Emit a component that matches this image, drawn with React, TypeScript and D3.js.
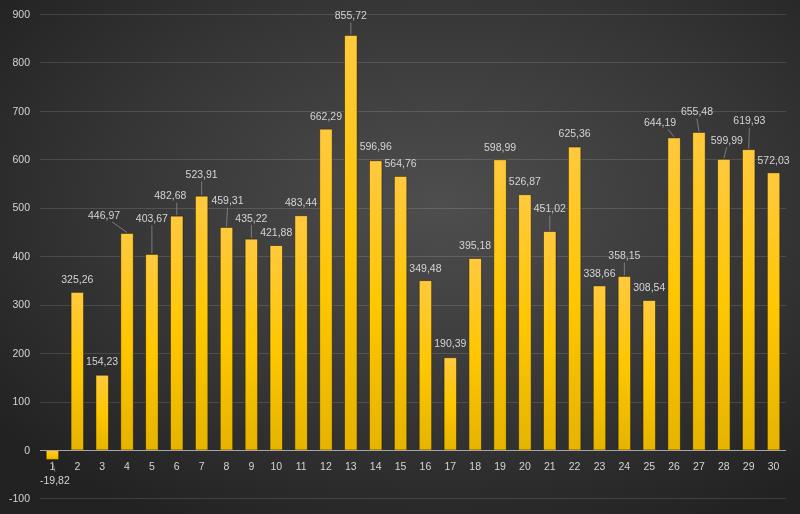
import React from "react";
import * as d3 from "d3";

const categories: string[] = Array.from({ length: 30 }, (_, i) => String(i + 1));
const values: number[] = [
  -19.82, 325.26, 154.23, 446.97, 403.67, 482.68, 523.91, 459.31, 435.22, 421.88,
  483.44, 662.29, 855.72, 596.96, 564.76, 349.48, 190.39, 395.18, 598.99, 526.87,
  451.02, 625.36, 338.66, 358.15, 308.54, 644.19, 655.48, 599.99, 619.93, 572.03,
];
const yTicks: number[] = [-100, 0, 100, 200, 300, 400, 500, 600, 700, 800, 900];

// manual label offsets (pixels) relative to bar center / bar end
const labelDx: number[] = [
  2.5, 0, 0, -23, 0, -6.5, 0, 1, 0, 0,
  0, 0, 0, 0, 0, 0, 0, 0, 0, 0,
  0, 0, 0, 0, 0, -14, -2, 3, 0.7, 0,
];
const labelDy: number[] = [
  21, -13, -14, -18.5, -36, -20.6, -21.7, -26.7, -21, -13,
  -13, -12.5, -20, -14.5, -13, -12, -14, -13.3, -12, -13.3,
  -23, -14, -12.7, -21, -12.7, -15.6, -21, -19.3, -29, -12.6,
];

const W = 800;
const H = 514;
const fmt = (v: number) => v.toFixed(2).replace(".", ",");

export default function App() {
  const x = d3
    .scaleBand<string>()
    .domain(categories)
    .range([40, 786])
    .paddingInner(0.5)
    .paddingOuter(0.25);
  const y = d3.scaleLinear().domain([-100, 900]).range([498.4, 14]);
  const bw = x.bandwidth();
  const font = "'Liberation Sans', Arial, sans-serif";
  const textColor = "#d4d4d4";

  return (
    <div style={{ position: "fixed", left: 0, top: 0, width: W, height: H }}>
      <svg width={W} height={H} style={{ display: "block" }}>
        <defs>
          <radialGradient id="bg" cx="55%" cy="40%" r="70%" fx="55%" fy="40%">
            <stop offset="0%" stopColor="#4e4e4e" />
            <stop offset="60%" stopColor="#353535" />
            <stop offset="100%" stopColor="#222222" />
          </radialGradient>
          <linearGradient id="barGrad" x1="0" y1="0" x2="0" y2="1">
            <stop offset="0%" stopColor="#ffc93e" />
            <stop offset="50%" stopColor="#ffc700" />
            <stop offset="100%" stopColor="#e6b400" />
          </linearGradient>
        </defs>
        <rect x={0} y={0} width={W} height={H} fill="url(#bg)" />
        {yTicks.map((t) => (
          <g key={t}>
            {t !== 0 && (
              <line
                x1={40}
                x2={786}
                y1={Math.round(y(t)) + 0.5}
                y2={Math.round(y(t)) + 0.5}
                stroke="rgba(255,255,255,0.13)"
                strokeWidth={1}
              />
            )}
            <text
              x={30}
              y={y(t)}
              dy="0.35em"
              textAnchor="end"
              fontFamily={font}
              fontSize={10.5}
              fill={textColor}
            >
              {t}
            </text>
          </g>
        ))}
        {categories.map((c, i) => {
          const v = values[i];
          const bx = x(c)!;
          const y0 = y(0);
          const y1 = y(v);
          const top = Math.min(y0, y1);
          const h = Math.abs(y1 - y0);
          return (
            <rect
              key={c}
              x={bx}
              y={top}
              width={bw}
              height={h}
              fill="url(#barGrad)"
              stroke="rgba(30,22,0,0.55)"
              strokeWidth={0.8}
            />
          );
        })}
        <line
          x1={40}
          x2={786}
          y1={Math.round(y(0)) + 0.5}
          y2={Math.round(y(0)) + 0.5}
          stroke="#a6a6a6"
          strokeWidth={1}
        />
        {categories.map((c) => (
          <text
            key={"t" + c}
            x={x(c)! + bw / 2}
            y={470}
            textAnchor="middle"
            fontFamily={font}
            fontSize={10.5}
            fill={textColor}
          >
            {c}
          </text>
        ))}
        {categories.map((c, i) => {
          const v = values[i];
          const cx = x(c)! + bw / 2;
          const end = y(v);
          const lx = cx + labelDx[i];
          const ly = end + labelDy[i];
          const neg = v < 0;
          const moved = neg ? labelDy[i] > 17 : labelDy[i] < -17 || Math.abs(labelDx[i]) > 5;
          let leader = null;
          if (moved) {
            const halfW = 16;
            let sx = lx;
            const dxb = cx - lx;
            if (Math.abs(dxb) > 4) sx = lx + Math.sign(dxb) * Math.min(Math.abs(dxb), halfW * 0.5);
            const sy = neg ? ly - 9 : ly + 7;
            const ey = neg ? end + 2 : end - 1;
            leader = (
              <line x1={sx} y1={sy} x2={cx} y2={ey} stroke="#8c8c8c" strokeWidth={0.8} />
            );
          }
          return (
            <g key={"l" + c}>
              {leader}
              <text
                x={lx}
                y={ly}
                dy="0.35em"
                textAnchor="middle"
                fontFamily={font}
                fontSize={10.5}
                fill={textColor}
              >
                {fmt(v)}
              </text>
            </g>
          );
        })}
      </svg>
    </div>
  );
}
